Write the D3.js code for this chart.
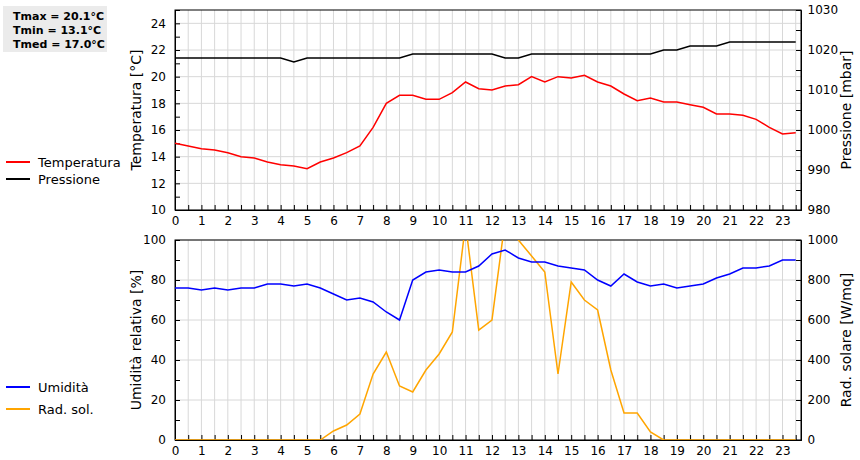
<!DOCTYPE html>
<html><head><meta charset="utf-8">
<script src="https://cdn.jsdelivr.net/npm/d3@7"></script>
<style>body{margin:0;background:#fff}text{font-family:"DejaVu Sans",sans-serif}</style>
</head><body><svg id="c" width="860" height="460"></svg>
<script>
const hours = d3.range(0, 24, 0.5);
const temperature = [15.0,14.8,14.6,14.5,14.3,14.0,13.9,13.6,13.4,13.3,13.1,13.6,13.9,14.3,14.8,16.2,18.0,18.6,18.6,18.3,18.3,18.8,19.6,19.1,19.0,19.3,19.4,20.0,19.6,20.0,19.9,20.1,19.6,19.3,18.7,18.2,18.4,18.1,18.1,17.9,17.7,17.2,17.2,17.1,16.8,16.2,15.7,15.8];
const pressure = [1018,1018,1018,1018,1018,1018,1018,1018,1018,1017,1018,1018,1018,1018,1018,1018,1018,1018,1019,1019,1019,1019,1019,1019,1019,1018,1018,1019,1019,1019,1019,1019,1019,1019,1019,1019,1019,1020,1020,1021,1021,1021,1022,1022,1022,1022,1022,1022];
const humidity = [76,76,75,76,75,76,76,78,78,77,78,76,73,70,71,69,64,60,80,84,85,84,84,87,93,95,91,89,89,87,86,85,80,77,83,79,77,78,76,77,78,81,83,86,86,87,90,90];
const radiation = [0,0,0,0,0,0,0,0,0,0,0,0,45,75,130,330,440,270,240,350,430,540,1080,550,600,1100,1000,920,840,330,790,700,650,350,135,135,40,0,0,0,0,0,0,0,0,0,0,0];
const xTicks = d3.range(0, 24);
const legendTop = ["Temperatura","Pressione"];
const legendBot = ["Umidità","Rad. sol."];
const stats = ["Tmax = 20.1°C","Tmin = 13.1°C","Tmed = 17.0°C"];

const svg = d3.select("#c");
const x = d3.scaleLinear().domain([0, 23.7]).range([175, 801]);
const yT = d3.scaleLinear().domain([10, 25]).range([210, 10]);
const yP = d3.scaleLinear().domain([980, 1030]).range([210, 10]);
const yH = d3.scaleLinear().domain([0, 100]).range([440, 240]);
const yR = d3.scaleLinear().domain([0, 1000]).range([440, 240]);

function panel(yL, yRt, lt, lab1, lab2, id) {
  const [b, t] = yL.range();
  const g = svg.append("g");
  g.selectAll(".vg").data(d3.range(0.5, 23.6, 0.5)).join("line")
    .attr("x1", d => x(d)).attr("x2", d => x(d)).attr("y1", t).attr("y2", b)
    .attr("stroke", "#d8d8d8");
  g.selectAll(".hg").data(yL.ticks(lt)).join("line")
    .attr("x1", 175).attr("x2", 801).attr("y1", d => yL(d)).attr("y2", d => yL(d))
    .attr("stroke", "#d8d8d8");
  svg.append("defs").append("clipPath").attr("id", id).append("rect")
    .attr("x", 175).attr("y", t).attr("width", 626).attr("height", b - t);
  const ax = g.append("g").attr("transform", `translate(0,${b})`)
    .call(d3.axisBottom(x).tickValues(d3.range(0, 23.6, 0.5)).tickSize(-5).tickFormat(d => Number.isInteger(d) ? d : ""));
  ax.selectAll("text").attr("dy", "1em");
  const lt2 = g.append("g").attr("transform", "translate(175,0)")
    .call(d3.axisLeft(yL).ticks(lt * 2).tickSize(-5).tickFormat(d => yL.ticks(lt).includes(d) ? d : ""));
  lt2.selectAll("text").attr("dx", "-0.5em");
  const rt = g.append("g").attr("transform", "translate(801,0)")
    .call(d3.axisRight(yRt).ticks(lt * 2).tickSize(-5).tickFormat(d => yRt.ticks(lt).includes(d) ? d : ""));
  rt.selectAll("text").attr("dx", "0.3em");
  [ax, lt2, rt].forEach(a => { a.selectAll("text").attr("font-size", 12).attr("fill", "#000"); a.select(".domain").attr("stroke", "#000"); });
  g.append("rect").attr("x", 175).attr("y", t).attr("width", 626).attr("height", b - t)
    .attr("fill", "none").attr("stroke", "#000");
  svg.append("text").attr("transform", `translate(141,${(t + b) / 2}) rotate(-90)`)
    .attr("text-anchor", "middle").attr("font-size", 14).text(lab1);
  svg.append("text").attr("transform", `translate(851,${(t + b) / 2}) rotate(-90)`)
    .attr("text-anchor", "middle").attr("font-size", 14).text(lab2);
}
panel(yT, yP, 7, "Temperatura [°C]", "Pressione [mbar]", "c1");
panel(yH, yR, 5, "Umidità relativa [%]", "Rad. solare [W/mq]", "c2");

function line(data, y, color, clip) {
  svg.append("path").datum(data).attr("clip-path", `url(#${clip})`)
    .attr("fill", "none").attr("stroke", color).attr("stroke-width", 1.5)
    .attr("d", d3.line().x((d, i) => x(hours[i])).y(d => y(d)));
}
line(pressure, yP, "#000", "c1");
line(temperature, yT, "#ff0000", "c1");
line(radiation, yR, "orange", "c2");
line(humidity, yH, "#0000ff", "c2");

function legend(items, colors, y0, dy) {
  items.forEach((s, i) => {
    const y = y0 + i * dy;
    svg.append("line").attr("x1", 6).attr("x2", 30).attr("y1", y).attr("y2", y).attr("stroke", colors[i]).attr("stroke-width", 2);
    svg.append("text").attr("x", 38).attr("y", y + 4.5).attr("font-size", 13).text(s);
  });
}
legend(legendTop, ["#ff0000", "#000"], 162, 17);
legend(legendBot, ["#0000ff", "orange"], 387, 22);

svg.append("rect").attr("x", 3).attr("y", 6).attr("width", 104).attr("height", 46).attr("fill", "#ebebeb");
stats.forEach((s, i) => svg.append("text").attr("x", 13).attr("y", 20 + i * 14)
  .attr("font-family", "'DejaVu Sans Mono',monospace").attr("font-weight", "bold").attr("font-size", 11).text(s));
</script></body></html>
